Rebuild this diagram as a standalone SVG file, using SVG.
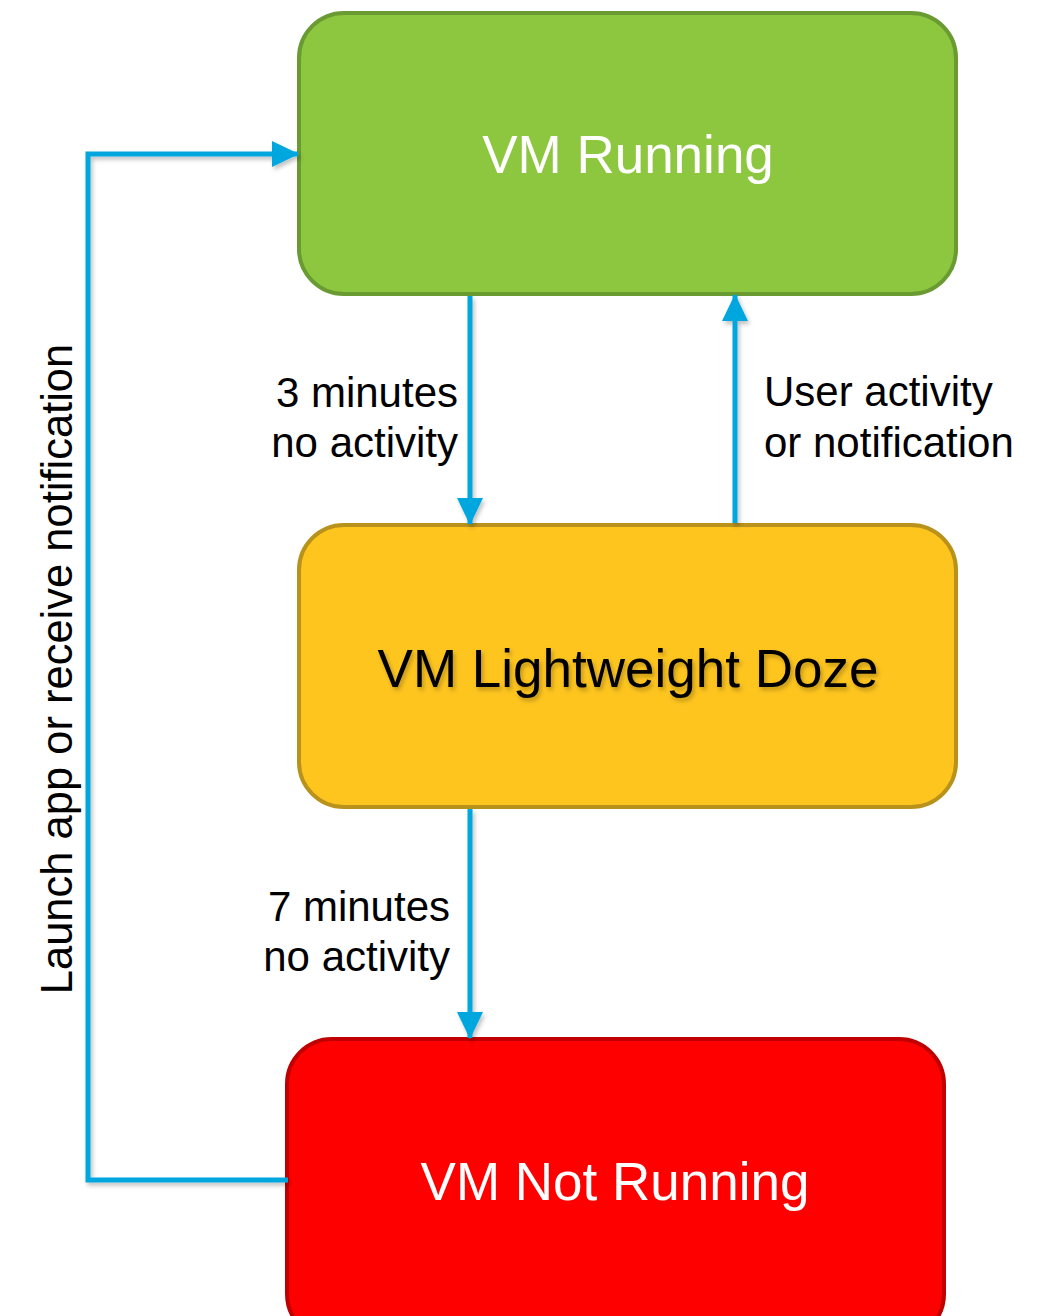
<svg xmlns="http://www.w3.org/2000/svg" width="1054" height="1316" viewBox="0 0 1054 1316">
<defs>
<style>
.lbl{font-family:"Liberation Sans",Arial,sans-serif;font-size:42px;fill:#000}
.title{font-family:"Liberation Sans",Arial,sans-serif;font-size:53px;text-anchor:middle}
.conn{fill:none;stroke:#00a6de;stroke-width:5}
</style>
<filter id="sh" x="-20%" y="-20%" width="140%" height="140%">
<feDropShadow dx="2" dy="3" stdDeviation="2" flood-color="#000" flood-opacity="0.25"/>
</filter>
<marker id="ah" viewBox="0 0 27 26" refX="26" refY="13" markerWidth="27" markerHeight="26" markerUnits="userSpaceOnUse" orient="auto">
<path d="M0,0 L27,13 L0,26 Z" fill="#00a6de"/>
</marker>
</defs>
<rect width="1054" height="1316" fill="#fff"/>
<g id="node-running">
<rect x="299" y="13" width="657" height="281" rx="45" fill="#8dc63f" stroke="#6a9a32" stroke-width="4"/>
<text class="title" x="628" y="173" fill="#fff">VM Running</text>
</g>
<g id="node-doze">
<rect x="299" y="525" width="657" height="282" rx="45" fill="#fec51f" stroke="#b8921b" stroke-width="4"/>
<text class="title" x="628" y="687" fill="#000" filter="url(#sh)">VM Lightweight Doze</text>
</g>
<g id="node-notrunning">
<rect x="287" y="1039" width="657" height="300" rx="45" fill="#ff0000" stroke="#c00000" stroke-width="4"/>
<text class="title" x="615" y="1200" fill="#fff">VM Not Running</text>
</g>
<g id="connectors" filter="url(#sh)">
<path class="conn" d="M470,296 L470,524" marker-end="url(#ah)"/>
<path class="conn" d="M735,523 L735,295" marker-end="url(#ah)"/>
<path class="conn" d="M470,809 L470,1038" marker-end="url(#ah)"/>
<path class="conn" d="M288,1180 L88,1180 L88,154 L298,154" marker-end="url(#ah)"/>
</g>
<g id="labels">
<text class="lbl" x="458" y="407" text-anchor="end">3 minutes</text>
<text class="lbl" x="458" y="457" text-anchor="end">no activity</text>
<text class="lbl" x="764" y="406">User activity</text>
<text class="lbl" x="764" y="457">or notification</text>
<text class="lbl" x="450" y="921" text-anchor="end">7 minutes</text>
<text class="lbl" x="450" y="971" text-anchor="end">no activity</text>
<text class="lbl" transform="translate(72,669) rotate(-90)" text-anchor="middle" style="font-size:43.5px">Launch app or receive notification</text>
</g>
</svg>
